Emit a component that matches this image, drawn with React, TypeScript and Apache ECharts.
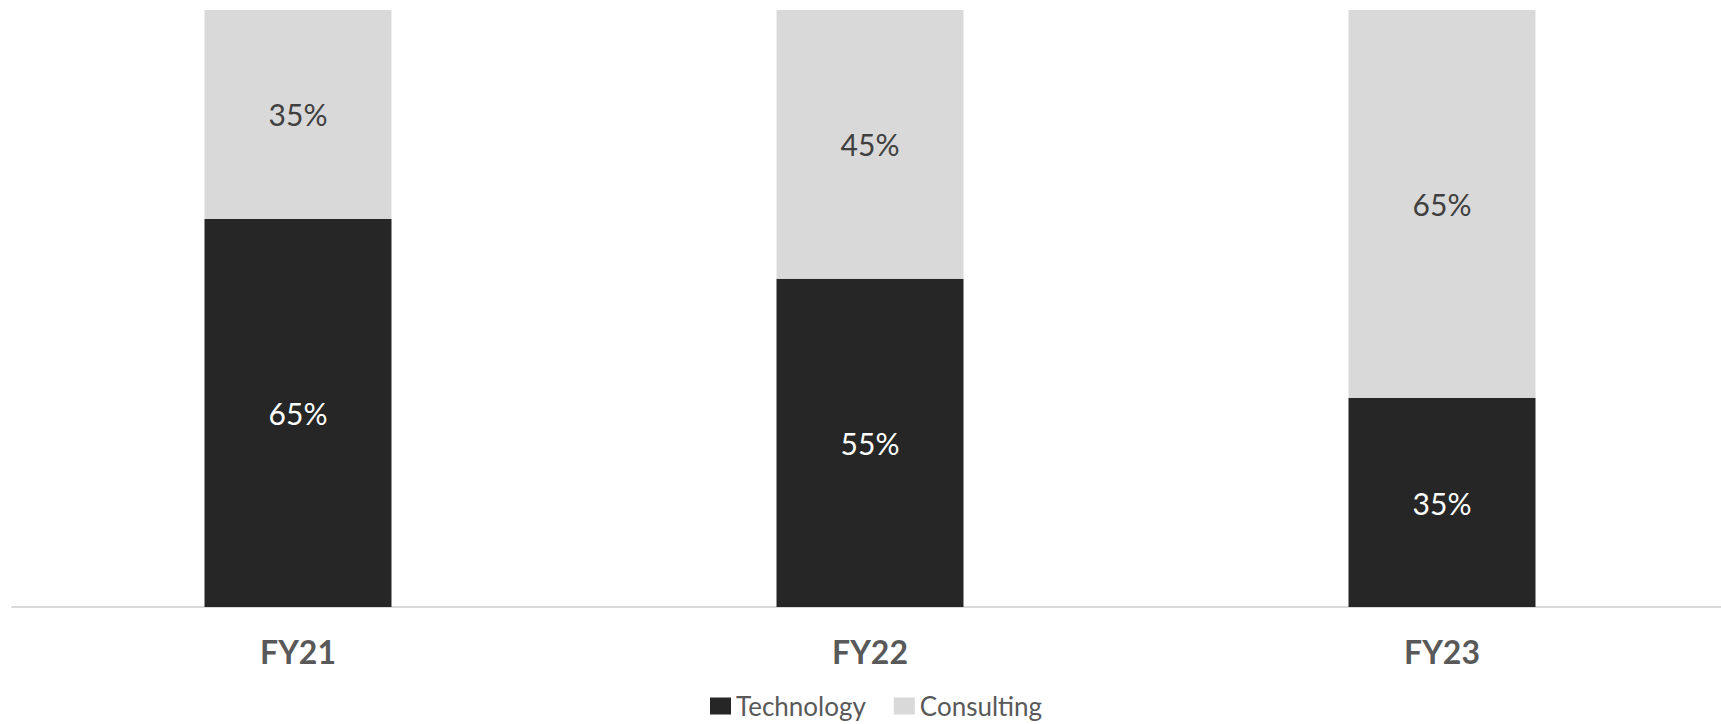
import React, { useEffect, useRef } from "react";
import * as echarts from "echarts";

const categories = ["FY21", "FY22", "FY23"];
const technology = [65, 55, 35];
const consulting = [35, 45, 65];
const seriesNames = ["Technology", "Consulting"];

export default function App() {
  const ref = useRef<HTMLDivElement>(null);
  useEffect(() => {
    if (!ref.current) return;
    const chart = echarts.init(ref.current, null, { renderer: "svg" });
    const fmt = (p: any) => p.value + "%";
    chart.setOption({
      animation: false,
      backgroundColor: "#ffffff",
      textStyle: { fontFamily: "Lato" },
      grid: { left: 12, top: 10, right: 0, bottom: 117, containLabel: false },
      legend: {
        data: seriesNames,
        left: 705,
        top: 688,
        itemWidth: 21,
        itemHeight: 17,
        itemGap: 28,
        icon: "rect",
        textStyle: { fontFamily: "Lato", fontSize: 26, color: "#595959" },
      },
      xAxis: {
        type: "category",
        data: categories,
        axisLine: { show: true, lineStyle: { color: "#D9D9D9", width: 2 } },
        axisTick: { show: false },
        axisLabel: {
          fontFamily: "Lato",
          fontWeight: "bold",
          fontSize: 32,
          color: "#595959",
          margin: 28,
        },
      },
      yAxis: {
        type: "value",
        min: 0,
        max: 100,
        show: false,
        splitLine: { show: false },
      },
      series: [
        {
          name: seriesNames[0],
          type: "bar",
          stack: "total",
          data: technology,
          barWidth: 187,
          itemStyle: { color: "#262626" },
          label: {
            show: true,
            position: "inside",
            formatter: fmt,
            fontFamily: "Lato",
            fontSize: 30,
            color: "#ffffff",
          },
        },
        {
          name: seriesNames[1],
          type: "bar",
          stack: "total",
          data: consulting,
          barWidth: 187,
          itemStyle: { color: "#D9D9D9" },
          label: {
            show: true,
            position: "inside",
            formatter: fmt,
            fontFamily: "Lato",
            fontSize: 30,
            color: "#404040",
          },
        },
      ],
    });
    return () => chart.dispose();
  }, []);
  return (
    <div style={{ position: "fixed", left: 0, top: 0, width: 1721, height: 724, overflow: "hidden" }}>
      <div
        ref={ref}
        style={{ position: "absolute", left: 0, top: 0, width: 1728, height: 724 }}
      />
    </div>
  );
}
